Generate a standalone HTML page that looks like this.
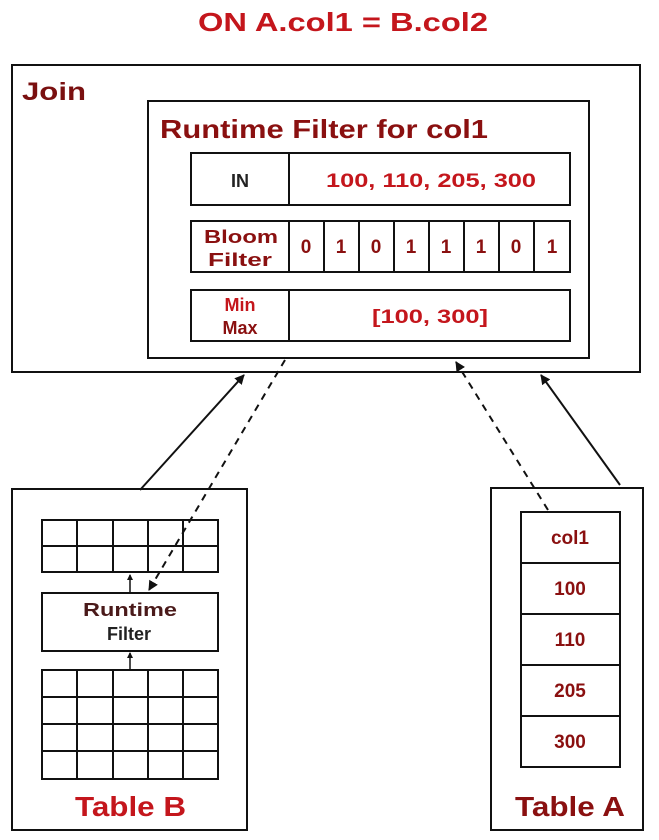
<!DOCTYPE html>
<html><head><meta charset="utf-8"><style>
body{margin:0;background:#fff;}
svg text{font-family:"Liberation Sans",Arial,sans-serif;font-weight:bold;}
</style></head><body>
<svg width="659" height="835" viewBox="0 0 659 835" xmlns="http://www.w3.org/2000/svg">
<defs>
<marker id="ah" markerWidth="10" markerHeight="10" refX="9" refY="5" orient="auto" markerUnits="userSpaceOnUse">
<path d="M0,0 L10,5 L0,10 z" fill="#111"/></marker>
<marker id="ahs" markerWidth="6" markerHeight="6" refX="5" refY="3" orient="auto" markerUnits="userSpaceOnUse">
<path d="M0,0 L6,3 L0,6 z" fill="#111"/></marker>
</defs>
<g fill="none" stroke="#111" stroke-width="2">
<rect x="12" y="65" width="628" height="307"/>
<rect x="148" y="101" width="441" height="257"/>
<rect x="191" y="153" width="379" height="52"/><line x1="289" y1="153" x2="289" y2="205"/>
<rect x="191" y="221" width="379" height="51"/>
<line x1="289" y1="221" x2="289" y2="272"/>
<line x1="324" y1="221" x2="324" y2="272"/><line x1="359" y1="221" x2="359" y2="272"/>
<line x1="394" y1="221" x2="394" y2="272"/><line x1="429" y1="221" x2="429" y2="272"/>
<line x1="464" y1="221" x2="464" y2="272"/><line x1="499" y1="221" x2="499" y2="272"/>
<line x1="534" y1="221" x2="534" y2="272"/>
<rect x="191" y="290" width="379" height="51"/><line x1="289" y1="290" x2="289" y2="341"/>
<rect x="12" y="489" width="235" height="341"/>
<rect x="42" y="520" width="176" height="52"/>
<line x1="42" y1="546" x2="218" y2="546"/>
<line x1="77" y1="520" x2="77" y2="572"/><line x1="113" y1="520" x2="113" y2="572"/><line x1="148" y1="520" x2="148" y2="572"/><line x1="183" y1="520" x2="183" y2="572"/>
<rect x="42" y="593" width="176" height="58"/>
<rect x="42" y="670" width="176" height="109"/>
<line x1="42" y1="697" x2="218" y2="697"/><line x1="42" y1="724" x2="218" y2="724"/><line x1="42" y1="751" x2="218" y2="751"/>
<line x1="77" y1="670" x2="77" y2="779"/><line x1="113" y1="670" x2="113" y2="779"/><line x1="148" y1="670" x2="148" y2="779"/><line x1="183" y1="670" x2="183" y2="779"/>
<line x1="130" y1="593" x2="130" y2="575" stroke-width="1.5" marker-end="url(#ahs)"/>
<line x1="130" y1="670" x2="130" y2="653" stroke-width="1.5" marker-end="url(#ahs)"/>
<rect x="491" y="488" width="152" height="342"/>
<rect x="521" y="512" width="99" height="255"/>
<line x1="521" y1="563" x2="620" y2="563"/><line x1="521" y1="614" x2="620" y2="614"/><line x1="521" y1="665" x2="620" y2="665"/><line x1="521" y1="716" x2="620" y2="716"/>
<line x1="140" y1="490" x2="244" y2="375" marker-end="url(#ah)"/>
<line x1="285" y1="360" x2="149" y2="590" stroke-dasharray="7,6" marker-end="url(#ah)"/>
<line x1="548" y1="510" x2="456" y2="362" stroke-dasharray="7,6" marker-end="url(#ah)"/>
<line x1="620" y1="485" x2="541" y2="375" marker-end="url(#ah)"/>
</g>
<g stroke="none">
<text x="198" y="31" font-size="26" fill="#c4161c" textLength="290" lengthAdjust="spacingAndGlyphs">ON A.col1 = B.col2</text>
<text x="22" y="100" font-size="25" fill="#7a1010" textLength="64" lengthAdjust="spacingAndGlyphs">Join</text>
<text x="160" y="138" font-size="26" fill="#8a1010" textLength="328" lengthAdjust="spacingAndGlyphs">Runtime Filter for col1</text>
<text x="240" y="187" font-size="18" fill="#222" text-anchor="middle">IN</text>
<text x="326" y="187" font-size="19" fill="#c4161c" textLength="210" lengthAdjust="spacingAndGlyphs">100, 110, 205, 300</text>
<text x="204" y="243" font-size="18" fill="#8a1010" textLength="74" lengthAdjust="spacingAndGlyphs">Bloom</text>
<text x="208" y="266" font-size="18" fill="#8a1010" textLength="64" lengthAdjust="spacingAndGlyphs">Filter</text>
<g font-size="19" fill="#8a1010" text-anchor="middle">
<text x="306" y="253">0</text><text x="341" y="253">1</text><text x="376" y="253">0</text><text x="411" y="253">1</text>
<text x="446" y="253">1</text><text x="481" y="253">1</text><text x="516" y="253">0</text><text x="552" y="253">1</text>
</g>
<text x="240" y="311" font-size="18" fill="#c4161c" text-anchor="middle">Min</text>
<text x="240" y="334" font-size="18" fill="#8a1010" text-anchor="middle">Max</text>
<text x="372" y="323" font-size="19" fill="#c4161c" textLength="116" lengthAdjust="spacingAndGlyphs">[100,  300]</text>
<text x="83" y="616" font-size="18" fill="#4a1a1a" textLength="94" lengthAdjust="spacingAndGlyphs">Runtime</text>
<text x="107" y="640" font-size="18" fill="#222">Filter</text>
<text x="75" y="816" font-size="28" fill="#c4161c" textLength="111" lengthAdjust="spacingAndGlyphs">Table B</text>
<text x="515" y="816" font-size="28" fill="#8a1010" textLength="110" lengthAdjust="spacingAndGlyphs">Table A</text>
<g font-size="19" fill="#8a1010" text-anchor="middle">
<text x="570" y="544">col1</text><text x="570" y="595">100</text><text x="570" y="646">110</text><text x="570" y="697">205</text><text x="570" y="748">300</text>
</g>
</g>
</svg>
</body></html>
